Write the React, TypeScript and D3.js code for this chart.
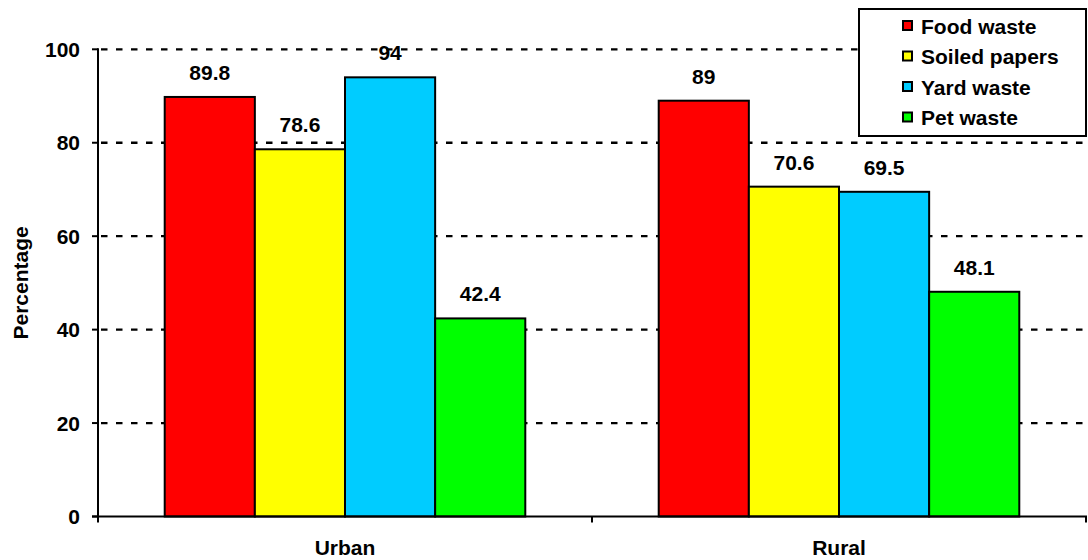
import React from "react";
import * as d3 from "d3";

const categories = ["Urban", "Rural"];
const seriesNames = ["Food waste", "Soiled papers", "Yard waste", "Pet waste"];
const seriesColors = ["#ff0000", "#ffff00", "#00ccff", "#00ff00"];
const foodWaste = [89.8, 89];
const soiledPapers = [78.6, 70.6];
const yardWaste = [94, 69.5];
const petWaste = [42.4, 48.1];
const yTicks = [0, 20, 40, 60, 80, 100];

const seriesValues = [foodWaste, soiledPapers, yardWaste, petWaste];

const W = 1088;
const H = 560;
const left = 98;
const right = 1086;
const top = 49.3;
const bottom = 516.5;
const FONT = "'Liberation Sans', Arial, sans-serif";
const FS = 21;

export default function App() {
  const y = d3.scaleLinear().domain([0, 100]).range([bottom, top]);
  const x0 = d3.scaleBand<string>().domain(categories).range([left, right]).paddingInner(0).paddingOuter(0);
  const x1 = d3
    .scaleBand<string>()
    .domain(seriesNames)
    .range([0, x0.bandwidth()])
    .paddingInner(0)
    .paddingOuter(0.74);

  const legendX = 859;
  const legendY = 9;
  const legendW = 227;
  const legendH = 127;
  const rowH = 30.5;

  return (
    <svg
      width={W}
      height={H}
      style={{ position: "absolute", left: 0, top: 0, background: "#fff" }}
      fontFamily={FONT}
      fontWeight="bold"
    >
      {/* gridlines */}
      {yTicks
        .filter((t) => t > 0)
        .map((t) => (
          <line
            key={"g" + t}
            x1={left + 1}
            x2={right - 2}
            y1={y(t)}
            y2={y(t)}
            stroke="#000"
            strokeWidth={2.3}
            strokeDasharray="6.5,8.5"
            strokeDashoffset={-2}
          />
        ))}
      {/* bars */}
      {categories.map((c, ci) => (
        <g key={c} transform={`translate(${x0(c)},0)`}>
          {seriesNames.map((s, si) => {
            const v = seriesValues[si][ci];
            const bx = x1(s)!;
            const bw = x1.bandwidth();
            return (
              <g key={s}>
                <rect
                  x={bx}
                  y={y(v)}
                  width={bw}
                  height={y(0) - y(v)}
                  fill={seriesColors[si]}
                  stroke="#000"
                  strokeWidth={2}
                />
                <text
                  x={bx + bw / 2}
                  y={y(v) - 17}
                  textAnchor="middle"
                  fontSize={FS}
                  fill="#000"
                >
                  {String(v)}
                </text>
              </g>
            );
          })}
        </g>
      ))}
      {/* y axis */}
      <line x1={left} x2={left} y1={top - 1} y2={bottom + 1} stroke="#000" strokeWidth={2} />
      {yTicks.map((t) => (
        <g key={"t" + t}>
          <line x1={left - 6} x2={left} y1={y(t)} y2={y(t)} stroke="#000" strokeWidth={2} />
          <text x={80} y={y(t)} dy="0.36em" textAnchor="end" fontSize={FS} fill="#000">
            {t}
          </text>
        </g>
      ))}
      {/* x axis */}
      <line x1={left - 6} x2={right + 1} y1={bottom} y2={bottom} stroke="#000" strokeWidth={2} />
      {[...categories.map((c) => x0(c)!), right].map((px, i) => (
        <line key={"xt" + i} x1={px} x2={px} y1={bottom} y2={bottom + 6} stroke="#000" strokeWidth={2} />
      ))}
      {categories.map((c) => (
        <text
          key={"xl" + c}
          x={x0(c)! + x0.bandwidth() / 2}
          y={555}
          textAnchor="middle"
          fontSize={FS}
          fill="#000"
        >
          {c}
        </text>
      ))}
      {/* y label */}
      <text
        transform={`translate(28,${(top + bottom) / 2}) rotate(-90)`}
        textAnchor="middle"
        fontSize={FS}
        fill="#000"
      >
        Percentage
      </text>
      {/* legend */}
      <rect x={legendX} y={legendY} width={legendW} height={legendH} fill="#fff" stroke="#000" strokeWidth={2} />
      {seriesNames.map((s, i) => {
        const cy = legendY + 17 + i * rowH;
        return (
          <g key={"l" + s}>
            <rect x={903} y={cy - 5} width={9} height={9} fill={seriesColors[i]} stroke="#000" strokeWidth={2} />
            <text x={921} y={cy} dy="0.36em" fontSize={FS} fill="#000">
              {s}
            </text>
          </g>
        );
      })}
    </svg>
  );
}
